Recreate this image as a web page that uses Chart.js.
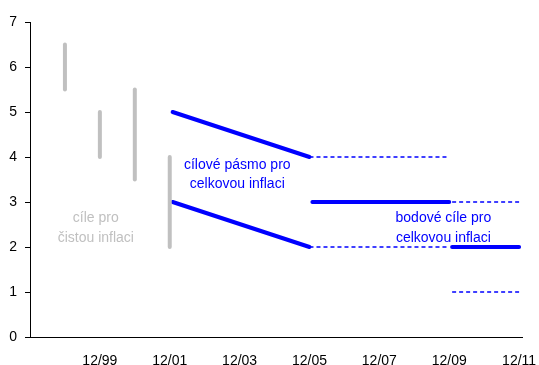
<!DOCTYPE html>
<html>
<head>
<meta charset="utf-8">
<script src="https://cdn.jsdelivr.net/npm/chart.js@4/dist/chart.umd.min.js"></script>
<style>
  html, body { margin: 0; padding: 0; background: #fff; }
  #wrap { width: 539px; height: 365px; }
</style>
</head>
<body>
<div id="wrap"><canvas id="c" width="539" height="365"></canvas></div>
<script>
// Net inflation targets (end of year ranges), %
const netTargetDates = ['12/98', '12/99', '12/00', '12/01'];
const netTargetLow   = [5.5, 4.0, 3.5, 2.0];
const netTargetHigh  = [6.5, 5.0, 5.5, 4.0];

// Headline inflation target band, declining linearly
const bandDates = ['1/02', '12/05'];
const bandUpper = [5, 4];
const bandLower = [3, 2];

// Headline point targets
const pointPeriods = [['1/06', '12/09'], ['1/10', '12/11']];
const pointValues  = [3, 2];
// Tolerance band around point targets (dashed)
const tolPeriods = [['12/05', '12/09'], ['1/10', '12/11']];
const tolUpper   = [4, 3];
const tolLower   = [2, 1];

// Axis tick labels
const xTickLabels = ['12/99', '12/01', '12/03', '12/05', '12/07', '12/09', '12/11'];
const yTicks = [0, 1, 2, 3, 4, 5, 6, 7];

// "MM/YY" -> decimal year
function toYear(s) {
  const [m, y] = s.split('/').map(Number);
  const year = y < 50 ? 2000 + y : 1900 + y;
  return year + (m - 1) / 12;
}

const GRAY = '#c0c0c0';
const BLUE = '#0000ff';
const FONT = 'Liberation Sans, Arial, sans-serif';

const datasets = [];

netTargetDates.forEach((d, i) => {
  datasets.push({
    data: [{ x: toYear(d), y: netTargetLow[i] }, { x: toYear(d), y: netTargetHigh[i] }],
    borderColor: GRAY, borderWidth: 4, borderCapStyle: 'round'
  });
});

[bandUpper, bandLower].forEach(vals => {
  datasets.push({
    data: bandDates.map((d, i) => ({ x: toYear(d), y: vals[i] })),
    borderColor: BLUE, borderWidth: 4, borderCapStyle: 'round'
  });
});

tolPeriods.forEach((p, i) => {
  [tolUpper[i], tolLower[i]].forEach(v => {
    datasets.push({
      data: p.map(d => ({ x: toYear(d), y: v })),
      borderColor: BLUE, borderWidth: 1.5, borderDash: [4, 3]
    });
  });
});

pointPeriods.forEach((p, i) => {
  datasets.push({
    data: p.map(d => ({ x: toYear(d), y: pointValues[i] })),
    borderColor: BLUE, borderWidth: 4, borderCapStyle: 'round'
  });
});

datasets.forEach(ds => {
  ds.showLine = true;
  ds.pointRadius = 0;
  ds.pointHoverRadius = 0;
  ds.fill = false;
  ds.tension = 0;
});

// Text notes placed in data coordinates
const notes = [
  { lines: ['cíle pro', 'čistou inflaci'], x: 1999.8, y: 2.64, color: GRAY },
  { lines: ['cílové pásmo pro', 'celkovou inflaci'], x: 2003.85, y: 3.82, color: BLUE },
  { lines: ['bodové cíle pro', 'celkovou inflaci'], x: 2009.75, y: 2.64, color: BLUE }
];

const notesPlugin = {
  id: 'notes',
  afterDatasetsDraw(chart) {
    const { ctx, scales } = chart;
    ctx.save();
    ctx.font = '14px ' + FONT;
    ctx.textAlign = 'center';
    ctx.textBaseline = 'middle';
    notes.forEach(n => {
      const px = scales.x.getPixelForValue(n.x);
      const py = scales.y.getPixelForValue(n.y);
      ctx.fillStyle = n.color;
      n.lines.forEach((t, k) => ctx.fillText(t, px, py + k * 19.5));
    });
    ctx.restore();
  }
};

new Chart(document.getElementById('c'), {
  type: 'scatter',
  data: { datasets },
  plugins: [notesPlugin],
  options: {
    responsive: false,
    animation: false,
    devicePixelRatio: 1,
    layout: { padding: { left: 0, top: 22, right: 17, bottom: 0 } },
    plugins: { legend: { display: false }, tooltip: { enabled: false } },
    scales: {
      x: {
        type: 'linear',
        min: toYear('12/97'),
        max: 2012.0,
        afterBuildTicks: s => { s.ticks = xTickLabels.map(l => ({ value: toYear(l) })); },
        afterFit: s => { s.height = 28; s.paddingLeft = 0; s.paddingRight = 0; },
        grid: { drawOnChartArea: false, drawTicks: false },
        border: { display: true, color: '#000', width: 1 },
        ticks: {
          autoSkip: false, maxRotation: 0, padding: 16, color: '#000',
          font: { family: FONT, size: 14 },
          callback: (v, i) => xTickLabels[i]
        }
      },
      y: {
        min: 0, max: 7,
        afterBuildTicks: s => { s.ticks = yTicks.map(v => ({ value: v })); },
        afterFit: s => { s.width = 30; s.paddingTop = 0; s.paddingBottom = 0; },
        grid: { drawOnChartArea: false, drawTicks: true, tickLength: 5, color: '#000' },
        border: { display: true, color: '#000', width: 1 },
        ticks: { padding: 8, color: '#000', font: { family: FONT, size: 14 } }
      }
    }
  }
});
</script>
</body>
</html>
